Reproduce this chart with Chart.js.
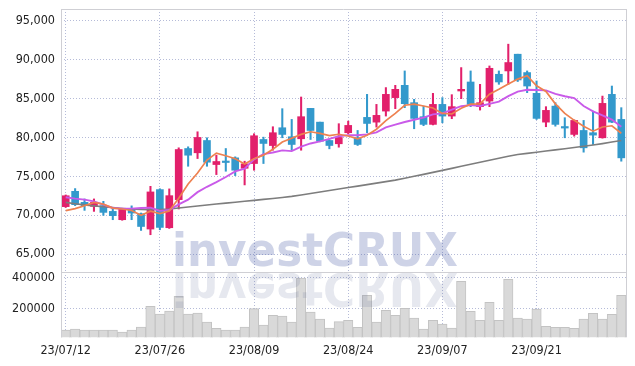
<!DOCTYPE html>
<html>
<head>
<meta charset="utf-8">
<script src="https://cdn.jsdelivr.net/npm/chart.js@4.4.1/dist/chart.umd.min.js"></script>
<style>
html,body{margin:0;padding:0;background:#fff;}
#wrap{position:relative;width:635px;height:366px;overflow:hidden;}
#wrap canvas{position:absolute;left:0;}
#cPrice{top:0;}
#cVol{top:272px;}
</style>
</head>
<body>
<div id="wrap">
<canvas id="cPrice" width="635" height="272"></canvas>
<canvas id="cVol" width="635" height="94"></canvas>
</div>
<script>
// ---- data ----
const dates = ["23/07/12","23/07/13","23/07/14","23/07/17","23/07/18","23/07/19","23/07/20","23/07/21","23/07/24","23/07/25",
"23/07/26","23/07/27","23/07/28","23/07/31","23/08/01","23/08/02","23/08/03","23/08/04","23/08/07","23/08/08",
"23/08/09","23/08/10","23/08/11","23/08/14","23/08/16","23/08/17","23/08/18","23/08/21","23/08/22","23/08/23",
"23/08/24","23/08/25","23/08/28","23/08/29","23/08/30","23/08/31","23/09/01","23/09/04","23/09/05","23/09/06",
"23/09/07","23/09/08","23/09/11","23/09/12","23/09/13","23/09/14","23/09/15","23/09/18","23/09/19","23/09/20",
"23/09/21","23/09/22","23/09/25","23/09/26","23/09/27","23/10/04","23/10/05","23/10/06","23/10/10","23/10/11"];
const shownDateLabels = ["23/07/12","23/07/26","23/08/09","23/08/24","23/09/07","23/09/21"];
const openP  = [71100,73070,71650,71130,71230,70490,69420,70800,70190,68220,73290,68390,72000,78570,78020,79600,76510,76900,77370,76030,
76640,79730,78950,81240,80080,79820,83730,81960,79600,79180,80600,79950,82570,81960,83380,85110,86690,84460,82660,81670,
84240,82740,85960,87120,83950,84670,88110,88540,90690,88330,85660,81960,84020,81300,80380,80890,80600,79950,85530,82310];
const highP  = [72600,73420,72090,72090,71780,70880,70900,71200,70280,73710,73400,73380,78660,78790,80720,79950,77710,78570,77500,76940,
80470,80030,81370,83690,82310,85190,83730,81960,79700,81760,82090,80890,85530,84240,86400,86690,88540,84890,84020,85660,
85110,85490,88970,88540,86820,89180,88540,91980,90690,88540,87250,83950,84460,82530,82250,82180,83380,85310,86600,83820];
const lowP   = [71000,71230,70620,70490,69980,69420,69350,69420,68040,67490,68130,68300,70800,76290,77280,76290,75220,75650,75090,73890,
75780,76640,78350,79950,78350,78350,79730,79430,78530,78740,80450,78960,80600,81320,82740,83690,83820,81110,81500,81600,
81880,82400,84980,83950,83510,83950,86820,86820,87180,85750,82300,81370,81440,79950,80160,78100,79090,79900,81900,76940];
const closeP = [72500,71350,71230,71650,70360,69940,70800,70280,68550,72990,68430,72510,78440,77710,79990,76810,76900,76770,75780,76600,
80210,79220,80600,80380,79090,82660,80890,79510,78960,79990,81540,79090,81790,82830,85530,86180,84330,82440,81670,84240,
82740,83950,86180,84240,84460,88880,87120,89620,87380,86600,82440,83470,81670,81200,82180,78660,80290,84370,81960,77370];
const ma5  = [70580,70840,71220,71650,71418,70906,70796,70606,69986,70512,70210,70552,72184,74016,75416,77092,77970,77636,77250,76572,
77252,77716,78482,79402,79900,80390,80724,80506,80222,80402,80178,79818,80274,81048,82156,83084,84132,84262,84030,83772,
83084,83008,83756,84270,84314,85542,86176,86864,87492,87920,86632,85902,84312,83076,82192,81436,80800,81340,81492,80530];
const ma10 = [72300,72130,72000,71780,71350,70930,70840,70840,70930,70965,70558,70674,71395,72001,72964,73651,74261,74910,75633,75994,
77172,77843,78059,78326,78236,78821,79220,79494,79812,80151,80284,80271,80390,80635,81279,81631,81975,82268,82539,82964,
83084,83570,84009,84150,84043,84313,84592,85310,85881,86117,86087,86039,85588,85284,85056,84034,83351,82826,82284,81361];
const ma60 = [71650,71480,71330,71200,71080,70970,70870,70790,70740,70720,70730,70800,70930,71060,71190,71310,71430,71550,71670,71790,
71910,72030,72150,72280,72420,72600,72790,72980,73170,73360,73550,73740,73930,74120,74310,74510,74750,75000,75250,75500,
75760,76020,76280,76540,76800,77060,77320,77570,77800,77950,78100,78250,78400,78550,78700,78860,79020,79200,79400,79600];
const volume = [64300,70700,64300,64300,64300,64300,51600,64300,83400,215300,166200,185400,279000,166200,172600,115300,75200,64300,64300,83400,
200000,96200,158000,153500,115300,395500,179000,134400,77100,117200,126100,81500,285300,115300,189800,158000,202500,140800,70700,126100,
102600,77100,374500,183400,126100,240800,126100,387200,140800,134400,198100,87900,81500,81500,75200,134400,170700,134400,164300,285300];
const priceTicks = [65000,70000,75000,80000,85000,90000,95000];
const volumeTicks = [200000,400000];

// ---- styles ----
const UP = '#e2206b', DOWN = '#3399cc';
const GRID = 'rgba(150,158,200,0.7)';
const FONT = {family:'"DejaVu Sans Condensed","Liberation Sans Narrow",Roboto,sans-serif', size:12.5};
const TXT = '#222';
const candleColors = openP.map((o,i)=> closeP[i] >= o ? UP : DOWN);

const frame = (isPrice) => ({
  id: 'frame'+(isPrice?'P':'V'),
  afterDraw(chart){
    const {ctx, chartArea:a} = chart;
    ctx.save();
    ctx.lineWidth = 1;
    ctx.strokeStyle = '#cfcfd4';
    ctx.beginPath();
    const L = Math.round(a.left)+0.5, R = Math.round(a.right)+0.5;
    ctx.moveTo(L, isPrice? a.top : 0); ctx.lineTo(L, a.bottom);
    ctx.moveTo(R, isPrice? a.top : 0); ctx.lineTo(R, a.bottom);
    if (isPrice) {
      ctx.moveTo(a.left, Math.round(a.top)+0.5); ctx.lineTo(a.right, Math.round(a.top)+0.5);
    } else {
      ctx.moveTo(a.left, 0.5); ctx.lineTo(a.right, 0.5);
    }
    ctx.stroke();
    ctx.restore();
  }
});

function drawMark(ctx, baseline, mirrorAt, color){
  ctx.save();
  ctx.font = 'bold 46px "DejaVu Sans", Roboto, sans-serif';
  const w = ctx.measureText('investCRUX').width;
  const sx = 286 / w;
  if (mirrorAt !== null) {
    ctx.translate(0, 2*mirrorAt);
    ctx.scale(1,-1);
  }
  ctx.translate(172, 0);
  ctx.scale(sx, 1);
  ctx.fillStyle = color;
  ctx.textBaseline = 'alphabetic';
  ctx.fillText('investCRUX', 0, baseline);
  ctx.restore();
}
const markP = { id:'markP', afterDraw(chart){ drawMark(chart.ctx, 266, null, 'rgba(60,80,160,0.25)'); } };
const markV = { id:'markV', afterDraw(chart){ drawMark(chart.ctx, 266-272, -2.5, 'rgba(90,100,150,0.15)'); } };

const noPad = s => { s.paddingTop = 0; s.paddingBottom = 0; s.paddingLeft = 0; s.paddingRight = 0; };

const xGrid = {
  display:true, offset:false, drawTicks:false,
  color: c => (c.index % 10 === 0 ? GRID : 'rgba(0,0,0,0)'), lineWidth:1
};

new Chart(document.getElementById('cPrice'), {
  type:'bar',
  data:{
    labels: dates,
    datasets:[
      {type:'line', data:ma5,  borderColor:'#ee8150', borderWidth:1.7, pointRadius:0, tension:0, order:0},
      {type:'line', data:ma10, borderColor:'#c95ae9', borderWidth:1.9, pointRadius:0, tension:0, order:0},
      {type:'line', data:ma60, borderColor:'#7d7d7d', borderWidth:1.6, pointRadius:0, tension:0, order:0},
      {type:'bar', data: lowP.map((l,i)=>[l, highP[i]]), backgroundColor:candleColors, barThickness:1.4, grouped:false, order:2, borderWidth:0},
      {type:'bar', data: openP.map((o,i)=>[o, closeP[i]]), backgroundColor:candleColors, barThickness:7, grouped:false, order:1, borderWidth:0, minBarLength:1.5}
    ]
  },
  options:{
    responsive:false, animation:false, devicePixelRatio:1,
    layout:{padding:{top:9,right:9,left:0,bottom:0}},
    plugins:{legend:{display:false}, tooltip:{enabled:false}},
    scales:{
      x:{offset:true, grid:xGrid, border:{display:false, dash:[1,2]}, ticks:{display:false},
         afterFit: s => { s.height = 0; noPad(s); }},
      y:{min:62700, max:96500,
         afterBuildTicks: s => { s.ticks = priceTicks.map(v=>({value:v})); },
         ticks:{font:FONT, color:TXT, padding:6, callback:v => Number(v).toLocaleString('en-US')},
         grid:{color:GRID, drawTicks:false}, border:{display:false, dash:[1,2]},
         afterFit: s => { s.width = 61; noPad(s); }}
    }
  },
  plugins:[markP, frame(true)]
});

new Chart(document.getElementById('cVol'), {
  type:'bar',
  data:{
    labels: dates,
    datasets:[
      {data: volume, backgroundColor:'#d9d9d9', borderColor:'#c3c3c3', borderWidth:1, borderSkipped:false,
       barPercentage:1, categoryPercentage:1}
    ]
  },
  options:{
    responsive:false, animation:false, devicePixelRatio:1,
    layout:{padding:{top:0,right:9,left:0,bottom:0}},
    plugins:{legend:{display:false}, tooltip:{enabled:false}},
    scales:{
      x:{offset:true, grid:xGrid, border:{display:false, dash:[1,2]},
         ticks:{font:FONT, color:TXT, padding:6, autoSkip:false, maxRotation:0,
                callback:(v,i) => (shownDateLabels.includes(dates[i]) ? dates[i] : '')},
         afterFit: s => { s.height = 28.7; noPad(s); }},
      y:{min:17800, max:433800,
         afterBuildTicks: s => { s.ticks = volumeTicks.map(v=>({value:v})); },
         ticks:{font:FONT, color:TXT, padding:6, callback:v => String(v)},
         grid:{color:GRID, drawTicks:false}, border:{display:false, dash:[1,2]},
         afterFit: s => { s.width = 61; noPad(s); }}
    }
  },
  plugins:[markV, frame(false)]
});
</script>
</body>
</html>
